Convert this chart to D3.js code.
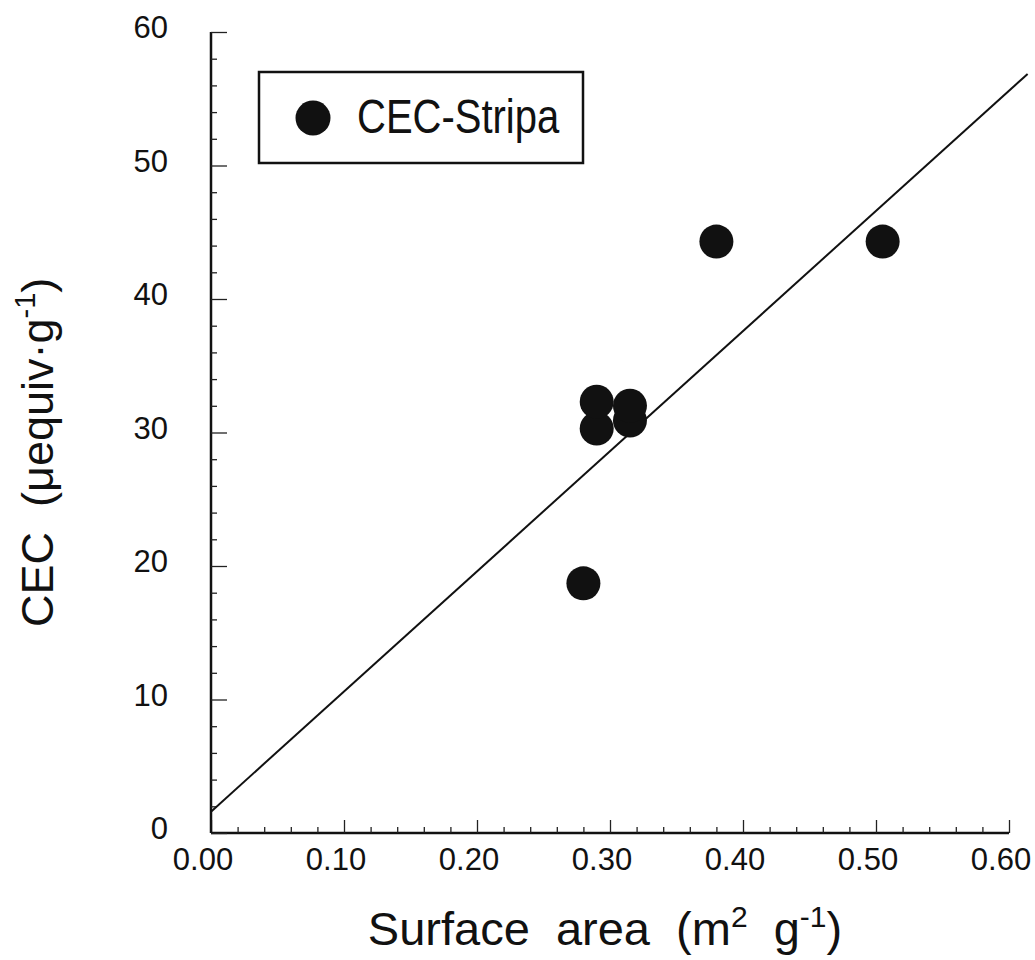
<html>
<head>
<style>
body { margin: 0; padding: 0; background: #fff; }
svg { display: block; }
text { font-family: "Liberation Sans", Arial, Helvetica, sans-serif; fill: #111; white-space: pre; }
.tick-label { font-size: 31px; }
.axis-title { font-size: 47px; }
.legend-text { font-size: 40px; }
</style>
<script src="https://cdnjs.cloudflare.com/ajax/libs/d3/7.8.5/d3.min.js"></script>
</head>
<body>
<svg id="chart" width="1035" height="960"></svg>
<script>
// surface area (m2/g) vs CEC (µequiv/g)
var surfaceArea = [0.28, 0.29, 0.29, 0.315, 0.315, 0.38, 0.505]
var cec = [18.7, 30.3, 32.3, 30.9, 32.0, 44.3, 44.3]

// regression line
var fitIntercept = 1.6
var fitSlope = 90
var fitRange = [0, 0.614]

var xTicks = [0, 0.1, 0.2, 0.3, 0.4, 0.5, 0.6]
var yTicks = [0, 10, 20, 30, 40, 50, 60]

var svg = d3.select('#chart')

var x = d3.scaleLinear().domain([0, 0.6]).range([211, 1009])
var y = d3.scaleLinear().domain([0, 60]).range([833, 32])

// minor ticks
var xMinor = d3.range(0, 0.6001, 0.02).map(function(d) { return +d.toFixed(2) })
var yMinor = d3.range(0, 60.01, 2)

var xAxis = d3.axisTop(x)
  .tickValues(xMinor)
  .tickSize(6)
  .tickFormat('')
var yAxis = d3.axisRight(y)
  .tickValues(yMinor)
  .tickSize(6)
  .tickFormat('')

var gx = svg.append('g').attr('transform', 'translate(0,' + y(0) + ')').call(xAxis)
var gy = svg.append('g').attr('transform', 'translate(' + x(0) + ',0)').call(yAxis)

gx.selectAll('.tick line')
  .attr('y2', function(d) { return xTicks.some(function(t) { return Math.abs(t - d) < 1e-6 }) ? -13 : -6 })
gy.selectAll('.tick line')
  .attr('x2', function(d) { return yTicks.indexOf(d) >= 0 ? 16 : 6 })

gx.select('.domain').attr('d', 'M' + x(0) + ',0H' + x(0.6))
gy.select('.domain').attr('d', 'M0,' + y(0) + 'V' + y(60))

svg.selectAll('.domain').attr('stroke', '#111').attr('stroke-width', 2.5)
svg.selectAll('.tick line').attr('stroke', '#222').attr('stroke-width', 1.3)

// tick labels
svg.append('g').selectAll('text')
  .data(xTicks)
  .join('text')
  .attr('class', 'tick-label')
  .attr('x', function(d) { return x(d) - 8 })
  .attr('y', 870)
  .attr('text-anchor', 'middle')
  .text(function(d) { return d.toFixed(2) })

svg.append('g').selectAll('text')
  .data(yTicks)
  .join('text')
  .attr('class', 'tick-label')
  .attr('x', 168)
  .attr('y', function(d) { return y(d) - 5 })
  .attr('dy', '0.36em')
  .attr('text-anchor', 'end')
  .text(function(d) { return d })

// fit line
svg.append('line')
  .attr('x1', x(fitRange[0]))
  .attr('y1', y(fitIntercept + fitSlope * fitRange[0]))
  .attr('x2', x(fitRange[1]))
  .attr('y2', y(fitIntercept + fitSlope * fitRange[1]))
  .attr('stroke', '#111')
  .attr('stroke-width', 2)

// points
svg.append('g').selectAll('circle')
  .data(surfaceArea)
  .join('circle')
  .attr('cx', function(d) { return x(d) })
  .attr('cy', function(d, i) { return y(cec[i]) })
  .attr('r', 17)
  .attr('fill', '#111')

// legend
var legend = svg.append('g')
legend.append('rect')
  .attr('x', 259).attr('y', 72)
  .attr('width', 324).attr('height', 91)
  .attr('fill', 'none')
  .attr('stroke', '#111')
  .attr('stroke-width', 2.5)
legend.append('circle')
  .attr('cx', 313).attr('cy', 118).attr('r', 17.5)
  .attr('fill', '#111')
legend.append('text')
  .attr('class', 'legend-text')
  .attr('transform', 'translate(357,133) scale(1,1.2)')
  .text('CEC-Stripa')

// axis titles
var xt = svg.append('text')
  .attr('class', 'axis-title')
  .attr('x', 605).attr('y', 945)
  .attr('text-anchor', 'middle')
xt.append('tspan').text('Surface  area  (m')
xt.append('tspan').attr('dy', -18).attr('font-size', 30).text('2')
xt.append('tspan').attr('dy', 18).text('  g')
xt.append('tspan').attr('dy', -18).attr('font-size', 30).text('-1')
xt.append('tspan').attr('dy', 18).text(')')

var yt = svg.append('text')
  .attr('class', 'axis-title')
  .style('font-size', '45px')
  .attr('transform', 'translate(53,627) rotate(-90)')
  .attr('text-anchor', 'start')
yt.append('tspan').text('CEC  (\u03bcequiv\u00b7g')
yt.append('tspan').attr('dy', -18).attr('font-size', 29).text('-1')
yt.append('tspan').attr('dy', 18).text(')')
</script>
</body>
</html>
